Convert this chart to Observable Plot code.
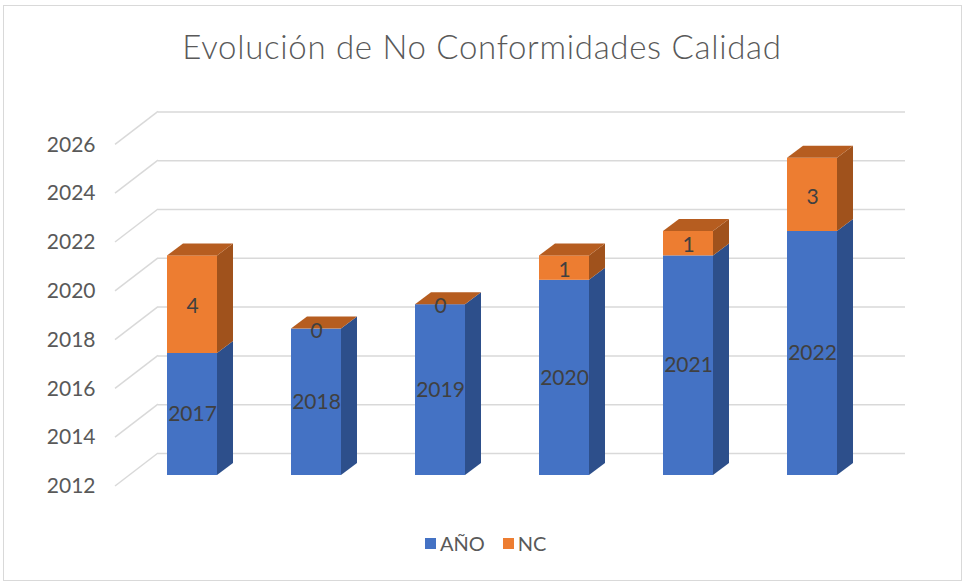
<!DOCTYPE html>
<html><head><meta charset="utf-8">
<script src="https://cdn.jsdelivr.net/npm/d3@7"></script>
<script src="https://cdn.jsdelivr.net/npm/@observablehq/plot@0.6"></script>
<style>
body{margin:0;background:#fff;}
#wrap{position:relative;width:964px;height:582px;overflow:hidden;font-family:Lato,sans-serif;background:#fff;}
#border{position:absolute;left:3px;top:5px;width:959px;height:576px;border:1.5px solid #d9d9d9;box-sizing:border-box;}
#title{position:absolute;left:0;width:964px;top:27px;text-align:center;font-size:33px;letter-spacing:0.7px;font-weight:300;line-height:38px;color:#595959;white-space:nowrap;}
#chart{position:absolute;left:0;top:90px;}
#legend{position:absolute;left:425px;top:530px;display:flex;align-items:center;font-size:20px;color:#595959;line-height:26px;}
#legend .item{display:flex;align-items:center;margin-right:18px;}
#legend .sw{width:11px;height:11px;margin-right:4px;display:inline-block;}
</style></head>
<body>
<div id="wrap">
  <div id="border"></div>
  <div id="title">Evolución de No Conformidades Calidad</div>
  <div id="chart"></div>
  <div id="legend"></div>
</div>
<script>
const years = ["2017", "2018", "2019", "2020", "2021", "2022"];
const anoValues = [2017, 2018, 2019, 2020, 2021, 2022];
const ncValues = [4, 0, 0, 1, 1, 3];
const yTicks = [2012, 2014, 2016, 2018, 2020, 2022, 2024, 2026];
const baseYear = 2012;
const seriesNames = ["AÑO", "NC"];
const seriesColors = ["#4472C4", "#ED7D31"];
const sideColors = ["#2d4f8b", "#a0521c"];
const topColor = "#b65d20";

const rows = years.map((k, i) => ({year: k, ano: anoValues[i], nc: ncValues[i]}));

const DX = 16, DY = -12;          // bar depth
const WALL_DY = -22;              // back wall offset
const FLOOR_DX = -43, FLOOR_DY = 11; // front end of the side wall lines

function poly(g, pts, fill) {
  g.append("path").attr("d", "M" + pts.map(p => p.join(",")).join("L") + "Z").attr("fill", fill);
}

const diagonals = (index, scales, values, dims) => {
  const y = scales.y;
  const g = d3.create("svg:g").attr("stroke", "#d9d9d9").attr("stroke-width", 1.5).attr("fill", "none");
  const x0 = dims.marginLeft;
  for (const t of yTicks) {
    g.append("line")
      .attr("x1", x0 + FLOOR_DX).attr("y1", y(t) + FLOOR_DY)
      .attr("x2", x0).attr("y2", y(t) + WALL_DY);
  }
  return g.node();
};

const faces = (index, scales) => {
  const x = scales.x, y = scales.y;
  const g = d3.create("svg:g");
  const bw = x.bandwidth();
  rows.forEach(d => {
    const xl = x(d.year), xr = xl + bw;
    const yb = y(baseYear), ym = y(d.ano), yt = y(d.ano + d.nc);
    poly(g, [[xr, yb], [xr + DX, yb + DY], [xr + DX, ym + DY], [xr, ym]], sideColors[0]);
    poly(g, [[xr, ym], [xr + DX, ym + DY], [xr + DX, yt + DY], [xr, yt]], sideColors[1]);
    poly(g, [[xl, yt], [xl + DX, yt + DY], [xr + DX, yt + DY], [xr, yt]], topColor);
  });
  return g.node();
};

const chart = Plot.plot({
  width: 964,
  height: 430,
  marginLeft: 158,
  marginRight: 59,
  marginTop: 0,
  marginBottom: 0,
  style: {fontFamily: "Lato, sans-serif", fontSize: "21px", background: "transparent", overflow: "visible"},
  x: {domain: years, range: [129, 875], paddingInner: 0.6, paddingOuter: 0.3, axis: null},
  y: {domain: [2012, 2026], range: [385, 43.4], axis: null},
  marks: [
    Plot.ruleY(yTicks, {y: d => d, dy: WALL_DY, stroke: "#d9d9d9", strokeWidth: 1.5}),
    diagonals,
    Plot.text(yTicks, {y: d => d, text: d => String(d), frameAnchor: "left", dx: -63, dy: FLOOR_DY, textAnchor: "end", fill: "#595959", fontSize: 21}),
    Plot.barY(rows, {x: "year", y1: () => baseYear, y2: "ano", fill: seriesColors[0]}),
    Plot.barY(rows, {x: "year", y1: "ano", y2: d => d.ano + d.nc, fill: seriesColors[1]}),
    faces,
    Plot.text(rows, {x: "year", y: d => (baseYear + d.ano) / 2, text: d => String(d.ano), fill: "#404040", fontSize: 21}),
    Plot.text(rows, {x: "year", y: d => d.ano + d.nc / 2, dy: 2, text: d => String(d.nc), fill: "#404040", fontSize: 21})
  ]
});
document.getElementById("chart").appendChild(chart);

const legend = document.getElementById("legend");
seriesNames.forEach((n, i) => {
  const item = document.createElement("div");
  item.className = "item";
  const sw = document.createElement("span");
  sw.className = "sw";
  sw.style.background = seriesColors[i];
  const tx = document.createElement("span");
  tx.textContent = n;
  item.appendChild(sw); item.appendChild(tx);
  legend.appendChild(item);
});
</script>
</body></html>
